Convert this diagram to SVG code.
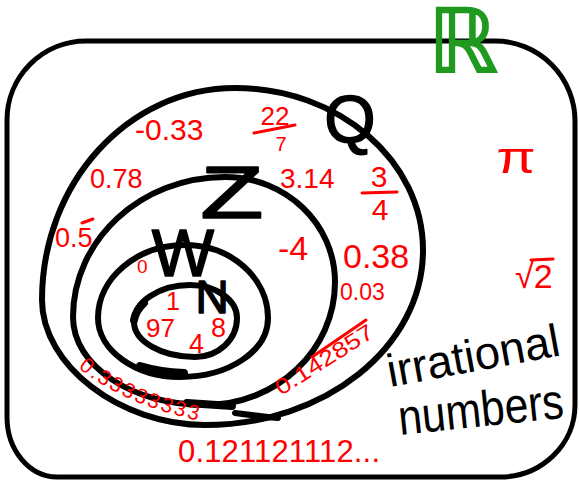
<svg xmlns="http://www.w3.org/2000/svg" width="579" height="482" viewBox="0 0 579 482">
<style>
.ln{fill:none;stroke:#000;stroke-width:6;stroke-linecap:round;stroke-linejoin:round}
.thk{fill:none;stroke:#000;stroke-width:8;stroke-linecap:round}
.lbl{fill:#000;stroke:#000;stroke-width:1.5;stroke-linejoin:round;font-family:"Liberation Sans",Arial,sans-serif}
.txt{fill:#000;font-family:"Liberation Sans",Arial,sans-serif}
.red{fill:#f00;font-family:"Liberation Sans",Arial,sans-serif}
.mk{fill:none;stroke:#f00;stroke-width:3;stroke-linecap:round}
</style>
<defs>
<path id="arc3" d="M 78 368 Q 130 408 206 422"/>
</defs>
<rect width="579" height="482" fill="#fff"/>
<g id="set-R">
<path class="ln" style="stroke-width:5" d="M 86 41 L 495 41 A 80 80 0 0 1 575 121 L 575 405 A 75 72 0 0 1 500 477 L 57 477 A 50 60 0 0 1 7 417 L 7 120 A 79 79 0 0 1 86 41 Z"/>
</g>
<g id="set-Q">
<path class="ln" d="M 235 88 C 339 88 423 161 423 250 C 423 347 325 425 205 425 C 120 425 42 365 42 300 C 42 183 128 88 235 88 Z"/>
<path class="ln" d="M 235 413 Q 258 416 278 418"/>
<text class="lbl" x="350" y="142" font-size="66" text-anchor="middle">Q</text>
</g>
<g id="set-Z">
<path class="ln" d="M 225 177 C 286 177 335 224 335 282 C 335 350 277 405 205 405 C 132 405 73 366 73 317 C 73 240 141 177 225 177 Z"/>
<path class="thk" d="M 187 403 L 232 406"/>
<text class="lbl" transform="translate(232 218) scale(1.4 1)" x="0" y="0" font-size="74" text-anchor="middle">Z</text>
</g>
<g id="set-W">
<path class="ln" d="M 185 245 C 231 245 268 278 268 318 C 268 351 229 377 180 377 C 135 377 98 350 98 318 C 98 278 137 245 185 245 Z"/>
<path class="thk" d="M 140 366 Q 160 372 184 373"/>
<text class="lbl" x="183" y="276" font-size="66" text-anchor="middle">W</text>
</g>
<g id="set-N">
<path class="ln" d="M 190 285 C 216 285 237 300 237 318 C 237 340 218 357 195 357 C 161 357 134 341 134 322 C 134 302 159 285 190 285 Z"/>
<path class="thk" d="M 134 320 Q 136 310 144 303"/>
<text class="lbl" x="212" y="313" font-size="46" text-anchor="middle">N</text>
</g>
<g id="irrational-label">
<text class="txt" transform="translate(390 387) rotate(-10.5)" x="0" y="0" font-size="46" textLength="175" lengthAdjust="spacingAndGlyphs">irrational</text>
<text class="txt" transform="translate(400 435) rotate(-6)" x="0" y="0" font-size="50" textLength="166" lengthAdjust="spacingAndGlyphs">numbers</text>
</g>
<g id="members">
<text class="red" x="135" y="140" font-size="30">-0.33</text>
<text class="red" x="275" y="125" font-size="26" text-anchor="middle">22</text>
<path class="mk" d="M 254 133 L 295 125"/>
<text class="red" x="281" y="151" font-size="20" text-anchor="middle">7</text>
<text class="red" x="90" y="188" font-size="27">0.78</text>
<text class="red" x="55" y="247" font-size="27">0.5</text>
<path class="mk" d="M 82 223 L 93 219"/>
<text class="red" x="280" y="188" font-size="28">3.14</text>
<text class="red" x="379" y="187" font-size="30" text-anchor="middle">3</text>
<path class="mk" d="M 362 193 L 397 192"/>
<text class="red" x="380" y="220" font-size="30" text-anchor="middle">4</text>
<text class="red" x="278" y="260" font-size="34">-4</text>
<text class="red" x="343" y="268" font-size="34">0.38</text>
<text class="red" x="340" y="300" font-size="23">0.03</text>
<text class="red" transform="translate(281 396) rotate(-32.4)" x="0" y="0" font-size="22" textLength="112" lengthAdjust="spacingAndGlyphs">0.142857</text>
<path class="mk" d="M 312 357 L 366 320"/>
<text class="red" font-size="21"><textPath href="#arc3" textLength="132" lengthAdjust="spacing">0.33333333</textPath></text>
<text class="red" x="178" y="462" font-size="31" textLength="202" lengthAdjust="spacing">0.121121112...</text>
<text class="red" transform="translate(516 173) scale(1.3 1)" x="0" y="0" font-size="44" text-anchor="middle">π</text>
<text class="red" x="515" y="288" font-size="34">√2</text>
<path class="mk" d="M 531 260 L 553 259"/>
<text class="red" x="137" y="273" font-size="19">0</text>
<text class="red" x="166" y="310" font-size="25">1</text>
<text class="red" x="146" y="337" font-size="26">97</text>
<text class="red" x="189" y="353" font-size="27">4</text>
<text class="red" x="211" y="337" font-size="27">8</text>
</g>
<g id="R-label">
<text x="463" y="72" font-size="88" text-anchor="middle" fill="#1f9a1f" stroke="#1f9a1f" stroke-width="2" style="font-family:'DejaVu Sans',sans-serif">ℝ</text>
</g>
</svg>
